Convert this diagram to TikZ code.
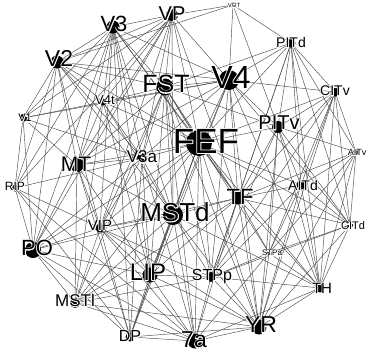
\documentclass[tikz,border=0pt]{standalone}
\usepackage{fontspec}
\setmainfont{Liberation Sans}
\pgfdeclarelayer{bg}
\pgfdeclarelayer{edges}
\pgfsetlayers{bg,edges,main}
\tikzset{
  disk/.style={circle,fill=black,inner sep=0pt,minimum size=#1},
  lab/.style={inner sep=0pt,text depth=0pt,text=black},
  edge/.style={draw=black!70,line width=0.45pt}
}
% white outline drawn with PDF text render mode 1 (stroke), then the black text on top
\newcommand\halotext[1]{\leavevmode\rlap{\color{white}\special{pdf:literal direct 1 Tr 1.7 w 1 J 1 j}#1\special{pdf:literal direct 0 Tr}}#1}
% #1 name, #2,#3 disk centre, #4 disk diameter, #5,#6 label centre, #7 font size, #8 text
\newcommand\vnode[8]{%
  \node[disk=#4pt] (#1) at (#2,#3) {};
  \node[lab,font=\fontsize{#7}{#7}\selectfont] (#1-l) at (#5,#6) {\halotext{#8}};}
\begin{document}
\begin{tikzpicture}[x=1pt,y=-1pt]
\begin{pgfonlayer}{bg}
\fill[white] (0,0) rectangle (366,351);
\end{pgfonlayer}
\useasboundingbox (0,0) rectangle (366,351);
\vnode{v3}{113}{27}{13}{114}{24}{22}{V3}
\vnode{vp}{172}{15}{12}{172}{14}{20}{VP}
\vnode{vot}{233}{5}{5}{234}{5.5}{6}{VOT}
\vnode{pitd}{291}{43}{9}{291}{42}{14}{PITd}
\vnode{v2}{57}{62}{13}{59}{58}{23}{V2}
\vnode{fst}{165}{87}{17}{166}{84}{25}{FST}
\vnode{v4}{229}{80}{20}{231}{77}{32}{V4}
\vnode{citv}{335}{92}{9}{335}{91}{14}{CITv}
\vnode{v4t}{103}{102}{7}{105}{100}{13}{V4t}
\vnode{v1}{23}{118}{8}{25}{118}{11}{V1}
\vnode{pitv}{278}{127}{12}{279}{123}{20}{PITv}
\vnode{fef}{199}{143}{26}{206}{141}{35}{FEF}
\vnode{aitv}{356}{152}{6}{357}{152}{9}{AITv}
\vnode{v3a}{142}{158}{10}{142}{157}{17}{V3a}
\vnode{mt}{77}{165}{14}{76}{164}{21}{MT}
\vnode{tf}{238}{198}{13}{240}{197}{22}{TF}
\vnode{aitd}{301}{185}{9}{303}{185}{14}{AITd}
\vnode{rip}{15}{188}{7}{15}{186}{12}{RIP}
\vnode{mstd}{173}{215}{20}{175}{212}{26}{MSTd}
\vnode{vip}{100}{228}{9}{100}{225}{15}{VIP}
\vnode{citd}{350}{225}{6}{353}{226}{11}{CITd}
\vnode{stpa}{269}{253}{5}{272}{253}{8}{STPa}
\vnode{po}{33}{250}{16}{37}{248}{22}{PO}
\vnode{lip}{150}{275}{15}{148}{272}{24}{LIP}
\vnode{stpp}{211}{277}{10}{212}{275}{16}{STPp}
\vnode{mstl}{75}{303}{10}{75}{300}{17}{MSTl}
\vnode{th}{320}{288}{9}{322}{288}{15}{TH}
\vnode{yr}{259}{327}{15}{261}{325}{23}{YR}
\vnode{dp}{130}{337}{9}{130}{336}{16}{DP}
\vnode{a7}{195}{341}{15}{194}{339.5}{23}{7a}
\begin{pgfonlayer}{edges}
\foreach \a/\b in {
 v1/v2,v1/v3,v1/vp,v1/v3a,v1/v4,v1/v4t,v1/mt,v1/po,v1/rip,
 v2/v3,v2/vp,v2/v3a,v2/v4,v2/vot,v2/v4t,v2/mt,v2/po,v2/rip,v2/fst,v2/fef,v2/vip,v2/mstd,
 v3/vp,v3/v3a,v3/v4,v3/v4t,v3/mt,v3/po,v3/rip,v3/fst,v3/mstd,v3/lip,v3/vip,v3/dp,v3/fef,v3/tf,
 vp/v3a,vp/v4,vp/vot,vp/mt,vp/po,vp/rip,vp/fst,vp/mstd,vp/vip,vp/fef,vp/tf,vp/v4t,
 v3a/v4,v3a/v4t,v3a/mt,v3a/po,v3a/rip,v3a/mstd,v3a/fst,v3a/lip,v3a/vip,v3a/dp,v3a/a7,v3a/fef,
 v4/vot,v4/v4t,v4/mt,v4/fst,v4/pitd,v4/pitv,v4/citd,v4/citv,v4/tf,v4/th,v4/lip,v4/dp,v4/fef,v4/yr,v4/stpp,
 vot/pitd,vot/pitv,
 v4t/mt,v4t/fst,v4t/mstd,v4t/mstl,v4t/lip,v4t/fef,
 mt/fst,mt/mstd,mt/mstl,mt/po,mt/lip,mt/vip,mt/fef,mt/dp,
 fst/mstd,fst/mstl,fst/pitd,fst/pitv,fst/stpp,fst/stpa,fst/tf,fst/lip,fst/vip,fst/a7,fst/fef,fst/yr,
 pitd/pitv,pitd/citd,pitd/citv,pitd/aitd,pitd/aitv,pitd/stpp,pitd/tf,pitd/th,pitd/fef,
 pitv/citd,pitv/citv,pitv/aitd,pitv/aitv,pitv/stpp,pitv/stpa,pitv/tf,pitv/th,pitv/fef,pitv/yr,
 citd/citv,citd/aitd,citd/aitv,citd/stpp,citd/stpa,citd/tf,citd/th,citd/fef,citd/yr,
 citv/aitd,citv/aitv,citv/stpp,citv/stpa,citv/tf,citv/th,citv/fef,citv/yr,
 aitd/aitv,aitd/stpp,aitd/stpa,aitd/tf,aitd/th,aitd/fef,aitd/yr,
 aitv/stpa,aitv/tf,aitv/th,aitv/yr,
 stpp/stpa,stpp/tf,stpp/th,stpp/mstd,stpp/mstl,stpp/lip,stpp/vip,stpp/a7,stpp/fef,stpp/yr,
 stpa/tf,stpa/th,stpa/a7,stpa/yr,
 tf/th,tf/mstd,tf/mstl,tf/lip,tf/vip,tf/a7,tf/fef,tf/yr,
 th/mstd,th/a7,th/fef,th/yr,
 mstd/mstl,mstd/po,mstd/lip,mstd/vip,mstd/dp,mstd/a7,mstd/fef,mstd/yr,
 mstl/po,mstl/lip,mstl/vip,mstl/a7,mstl/fef,mstl/yr,
 po/rip,po/lip,po/vip,po/dp,po/a7,po/fef,
 rip/vip,rip/dp,rip/a7,
 lip/vip,lip/dp,lip/a7,lip/fef,lip/yr,
 vip/dp,vip/a7,vip/fef,vip/yr,
 dp/a7,dp/fef,dp/yr,
 a7/fef,a7/yr,fef/yr}
 \draw[edge] (\a.center) -- (\b.center);
\end{pgfonlayer}
\end{tikzpicture}
\end{document}
